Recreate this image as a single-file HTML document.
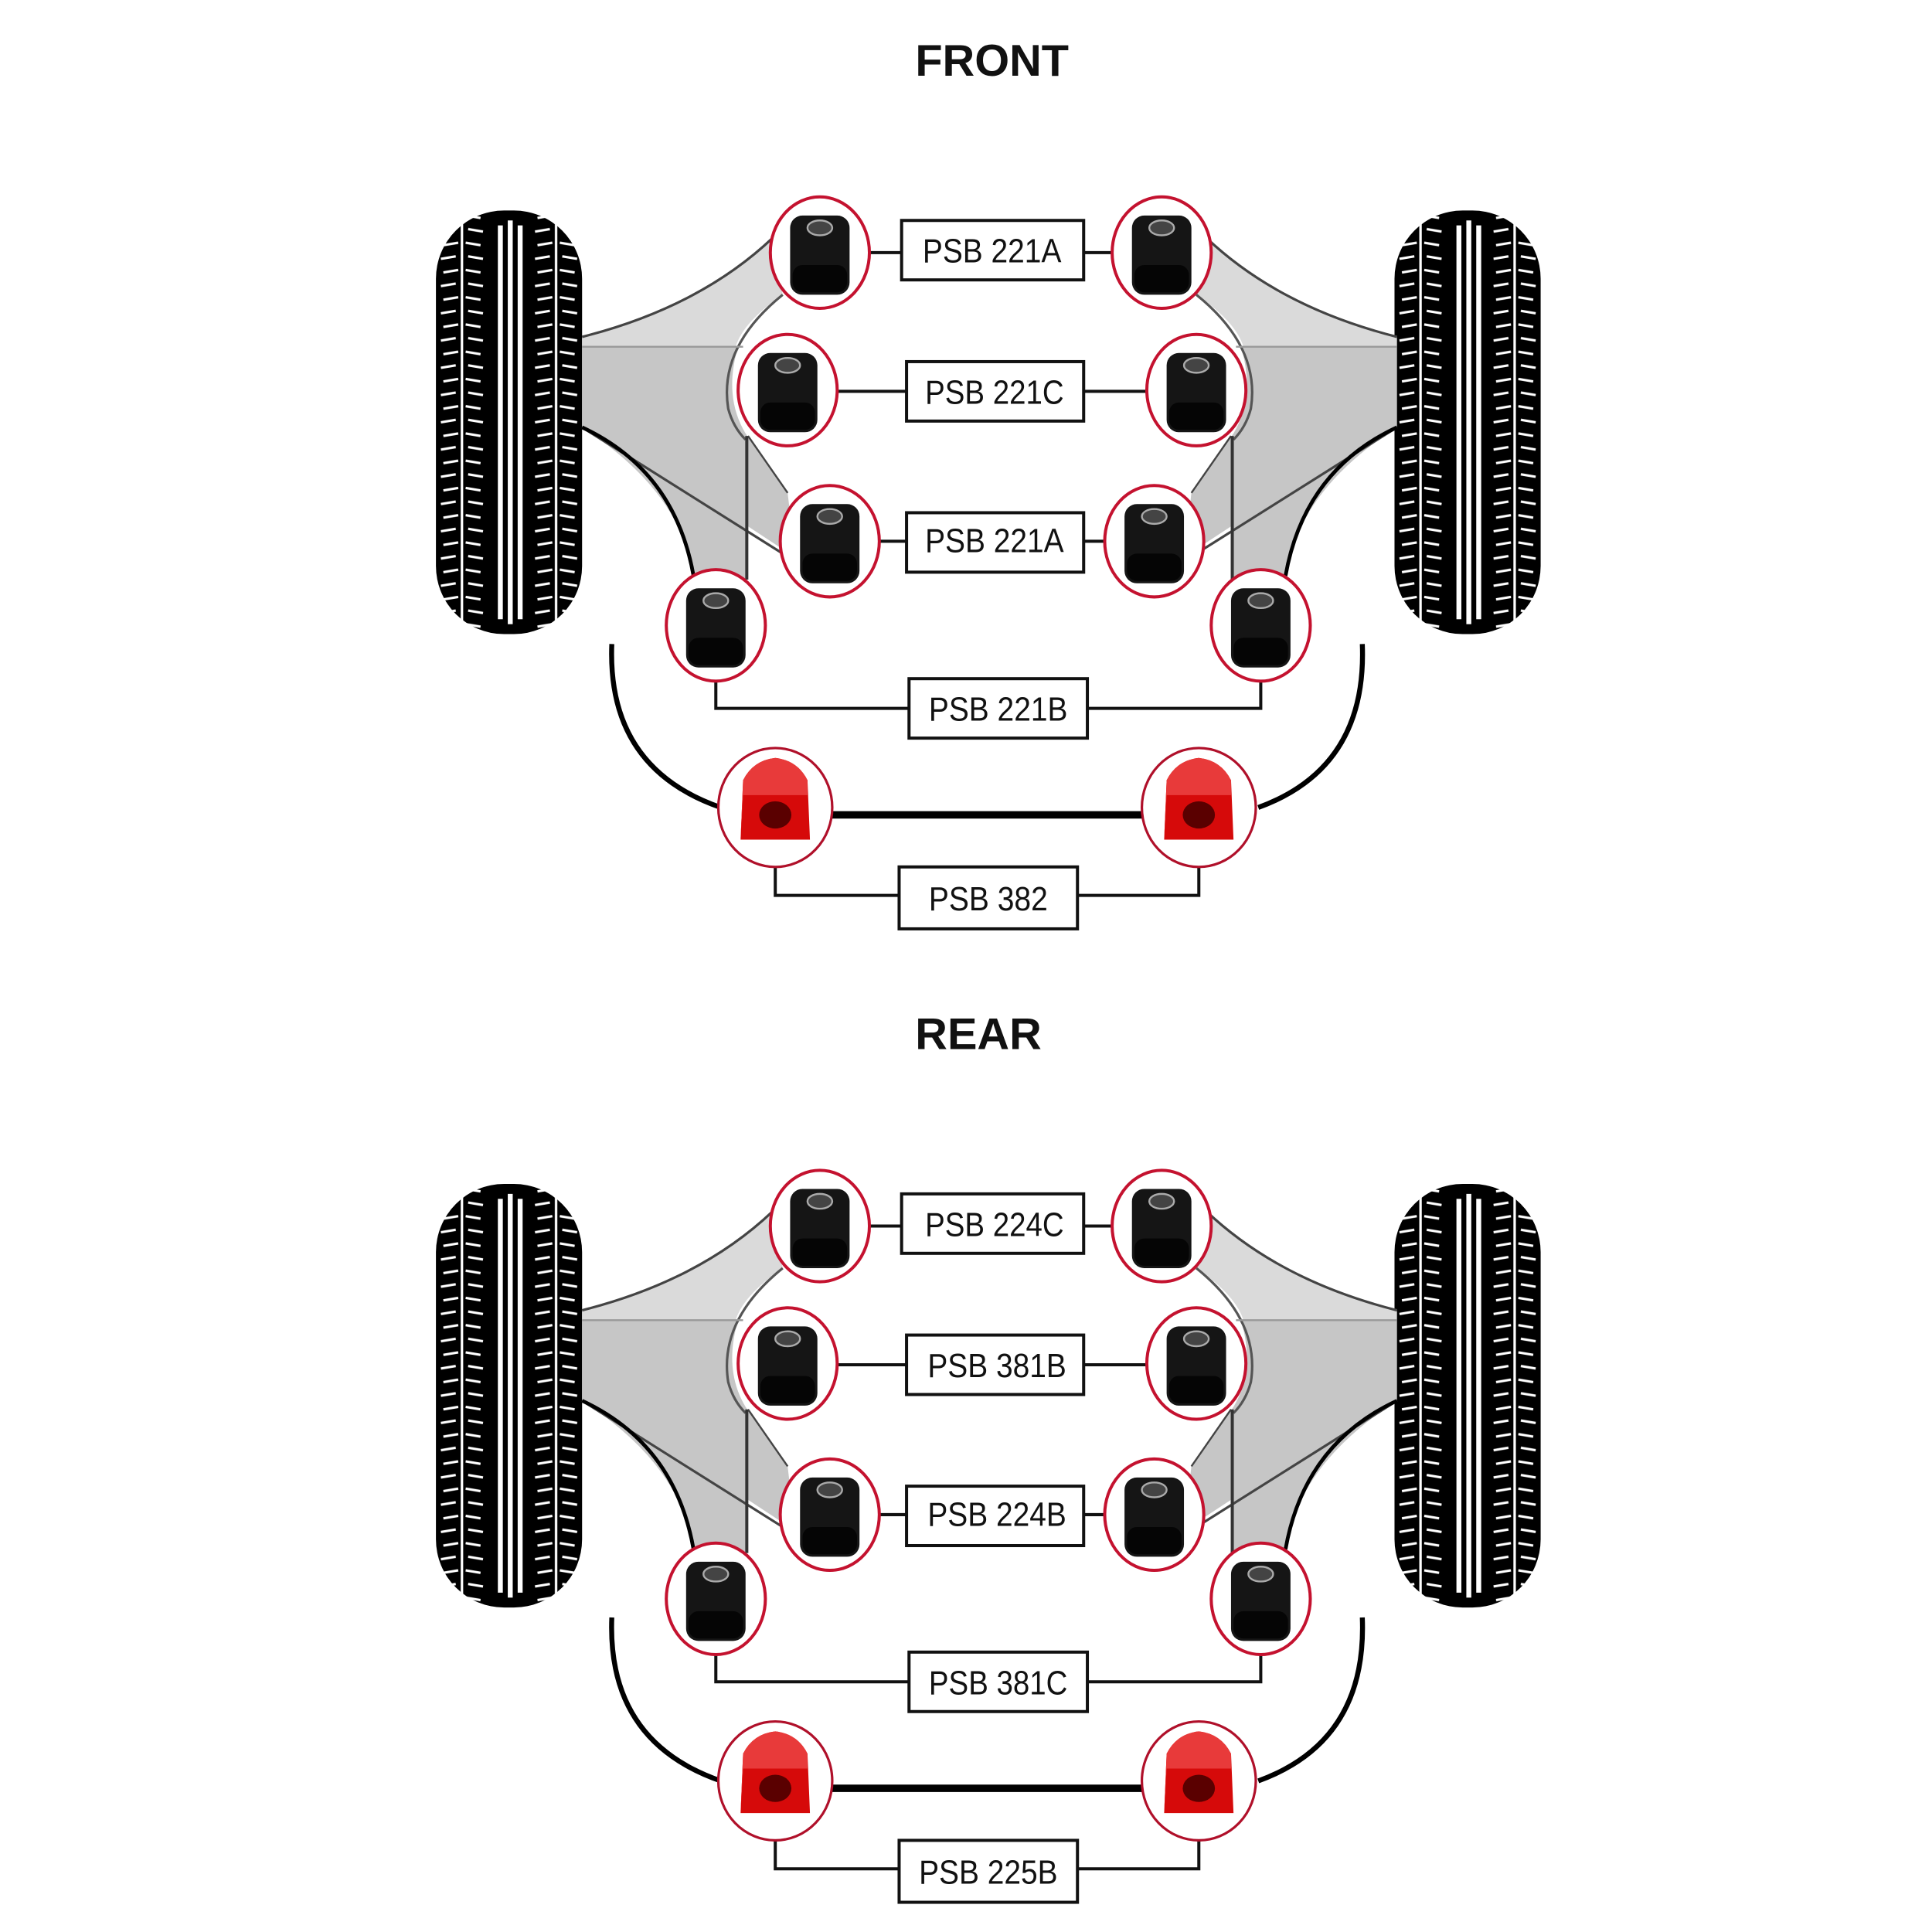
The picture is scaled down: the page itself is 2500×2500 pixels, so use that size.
<!DOCTYPE html>
<html><head><meta charset="utf-8"><style>html,body{margin:0;padding:0;background:#fff}svg{display:block}</style></head>
<body>
<svg width="2500" height="2500" viewBox="0 0 1560 1560" xmlns="http://www.w3.org/2000/svg">
<defs>
<pattern id="tread" patternUnits="userSpaceOnUse" x="0" y="0" width="118" height="22">
<rect width="118" height="22" fill="#000"/>
<rect x="20" y="0" width="2" height="22" fill="#fff"/>
<rect x="96" y="0" width="2" height="22" fill="#fff"/>
<g stroke="#fff" stroke-width="2">
<line x1="6" y1="6" x2="18" y2="4"/><line x1="24" y1="4" x2="36" y2="6"/>
<line x1="4" y1="17" x2="16" y2="15"/><line x1="26" y1="15" x2="38" y2="17"/>
<line x1="82" y1="6" x2="94" y2="4"/><line x1="100" y1="4" x2="112" y2="6"/>
<line x1="80" y1="17" x2="92" y2="15"/><line x1="102" y1="15" x2="114" y2="17"/>
</g>
</pattern>
<g id="tire">
<rect x="0" y="0" width="118" height="342" rx="55" fill="url(#tread)"/>
<rect x="50" y="12" width="4" height="318" fill="#fff"/>
<rect x="58" y="8" width="4" height="326" fill="#fff"/>
<rect x="66" y="12" width="4" height="318" fill="#fff"/>
</g>
<g id="bk">
<ellipse cx="0" cy="0" rx="40" ry="45" fill="#fff" stroke="#c4122f" stroke-width="2.5"/>
<rect x="-24" y="-30" width="48" height="64" rx="10" fill="#151515"/>
<rect x="-22" y="10" width="44" height="22" rx="8" fill="#050505"/>
<ellipse cx="0" cy="-20" rx="10" ry="6" fill="#444" stroke="#aaa" stroke-width="1.5"/>
</g>
<g id="rd">
<ellipse cx="0" cy="0" rx="46" ry="48" fill="#fff" stroke="#b0102a" stroke-width="2"/>
<path d="M-28,26 L-26,-22 Q-18,-38 0,-40 Q18,-38 26,-22 L28,26 Z" fill="#d60a0a"/>
<path d="M-28,26 L-26,-22 Q-18,-38 0,-40 Q18,-38 26,-22 L26,-10 L-26,-10 Z" fill="#e83a3a"/>
<ellipse cx="0" cy="6" rx="13" ry="11" fill="#5a0000"/>
</g>
<g id="arm">
<path d="M470,272 Q565,248 624,192 L632,238 Q600,260 594,280 L470,280 Z" fill="#dadada"/>
<path d="M470,280 L596,280 Q584,320 602,350 L636,398 L642,450 L604,425 L604,468 L560,468 Q552,398 470,345 Z" fill="#c6c6c6"/>
<path d="M470,272 Q565,248 624,192" fill="none" stroke="#444" stroke-width="2"/>
<path d="M632,238 Q580,280 588,330 Q592,345 602,355" fill="none" stroke="#555" stroke-width="2"/>
<line x1="470" y1="280" x2="600" y2="280" stroke="#999" stroke-width="1.5"/>
<line x1="470" y1="345" x2="640" y2="452" stroke="#444" stroke-width="2"/>
<path d="M604,352 L636,398" stroke="#444" stroke-width="1.5"/>
<path d="M470,345 Q545,380 560,465" fill="none" stroke="#000" stroke-width="3"/>
<line x1="603" y1="352" x2="603" y2="468" stroke="#333" stroke-width="2.5"/>
</g>
<g id="frame">
<use href="#tire" x="352" y="170"/>
<use href="#tire" x="1126" y="170"/>
<use href="#arm"/>
<use href="#arm" transform="translate(1598,0) scale(-1,1)"/>
<path d="M494,520 Q490,620 582,652" fill="none" stroke="#000" stroke-width="4"/>
<path d="M1100,520 Q1104,620 1016,652" fill="none" stroke="#000" stroke-width="4"/>
<line x1="672" y1="658" x2="922" y2="658" stroke="#000" stroke-width="6"/>
<g stroke="#111" stroke-width="2.5" fill="none">
<line x1="702" y1="204" x2="728" y2="204"/><line x1="875" y1="204" x2="898" y2="204"/>
<line x1="676" y1="316" x2="732" y2="316"/><line x1="875" y1="316" x2="926" y2="316"/>
<line x1="710" y1="437" x2="732" y2="437"/><line x1="875" y1="437" x2="892" y2="437"/>
<polyline points="578,548 578,572 734,572"/><polyline points="878,572 1018,572 1018,548"/>
<polyline points="626,700 626,723 726,723"/><polyline points="870,723 968,723 968,700"/>
</g>
<use href="#bk" x="662" y="204"/><use href="#bk" x="938" y="204"/>
<use href="#bk" x="636" y="315"/><use href="#bk" x="966" y="315"/>
<use href="#bk" x="670" y="437"/><use href="#bk" x="932" y="437"/>
<use href="#bk" x="578" y="505"/><use href="#bk" x="1018" y="505"/>
<use href="#rd" x="626" y="652"/><use href="#rd" x="968" y="652"/>
<g fill="#fff" stroke="#111" stroke-width="2.5">
<rect x="728" y="178" width="147" height="48"/>
<rect x="732" y="292" width="143" height="48"/>
<rect x="732" y="414" width="143" height="48"/>
<rect x="734" y="548" width="144" height="48"/>
<rect x="726" y="700" width="144" height="50"/>
</g>
</g>
</defs>

<use href="#frame"/>
<use href="#frame" y="786"/>

<g font-family="'Liberation Sans', sans-serif" font-weight="bold" font-size="36" fill="#111" text-anchor="middle">
<text x="801" y="61">FRONT</text>
<text x="790" y="847">REAR</text>
</g>
<g font-family="'Liberation Sans Narrow','Liberation Sans', sans-serif" font-size="27" fill="#111" text-anchor="middle" lengthAdjust="spacingAndGlyphs">
<text x="801" y="212" textLength="112" lengthAdjust="spacingAndGlyphs">PSB 221A</text>
<text x="803" y="326" textLength="112" lengthAdjust="spacingAndGlyphs">PSB 221C</text>
<text x="803" y="446" textLength="112" lengthAdjust="spacingAndGlyphs">PSB 221A</text>
<text x="806" y="582" textLength="112" lengthAdjust="spacingAndGlyphs">PSB 221B</text>
<text x="798" y="735" textLength="96" lengthAdjust="spacingAndGlyphs">PSB 382</text>
<text x="803" y="998" textLength="112" lengthAdjust="spacingAndGlyphs">PSB 224C</text>
<text x="805" y="1112" textLength="112" lengthAdjust="spacingAndGlyphs">PSB 381B</text>
<text x="805" y="1232" textLength="112" lengthAdjust="spacingAndGlyphs">PSB 224B</text>
<text x="806" y="1368" textLength="112" lengthAdjust="spacingAndGlyphs">PSB 381C</text>
<text x="798" y="1521" textLength="112" lengthAdjust="spacingAndGlyphs">PSB 225B</text>
</g>
</svg>
</body></html>
